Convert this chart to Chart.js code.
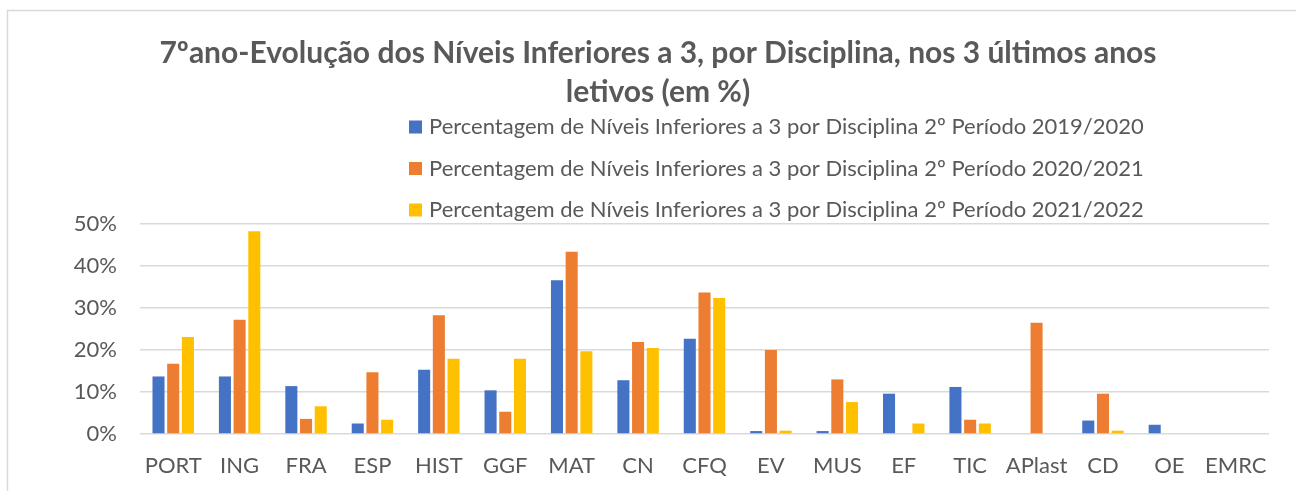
<!DOCTYPE html>
<html>
<head>
<meta charset="utf-8">
<script src="https://cdn.jsdelivr.net/npm/chart.js@4.4.1/dist/chart.umd.min.js"></script>
<style>
  html, body { margin: 0; padding: 0; background: #ffffff; }
  canvas { display: block; }
</style>
</head>
<body>
<canvas id="c" width="1296" height="491"></canvas>
<script>
const categories = ["PORT","ING","FRA","ESP","HIST","GGF","MAT","CN","CFQ","EV","MUS","EF","TIC","APlast","CD","OE","EMRC"];
const values2019 = [13.7, 13.7, 11.4, 2.5, 15.3, 10.4, 36.6, 12.8, 22.7, 0.7, 0.7, 9.6, 11.2, 0, 3.2, 2.2, 0];
const values2020 = [16.7, 27.2, 3.6, 14.7, 28.3, 5.3, 43.4, 21.9, 33.7, 20.0, 13.0, 0, 3.4, 26.5, 9.6, 0, 0];
const values2021 = [23.1, 48.3, 6.6, 3.4, 17.9, 17.9, 19.7, 20.5, 32.4, 0.8, 7.6, 2.5, 2.5, 0, 0.8, 0, 0];
const seriesLabels = [
  "Percentagem de Níveis Inferiores a 3 por Disciplina 2º Período 2019/2020",
  "Percentagem de Níveis Inferiores a 3 por Disciplina 2º Período 2020/2021",
  "Percentagem de Níveis Inferiores a 3 por Disciplina 2º Período 2021/2022"
];
const titleLines = ["7ºano-Evolução dos Níveis Inferiores a 3, por Disciplina, nos 3 últimos anos", "letivos (em %)"];
const yTicks = [0, 10, 20, 30, 40, 50];
const colors = ["#4472C4", "#ED7D31", "#FFC000"];

const FONT = "Lato, 'Open Sans', sans-serif";
const GREY = "#595959";

const framePlugin = {
  id: 'frame',
  beforeDraw(chart) {
    const ctx = chart.ctx;
    ctx.save();
    ctx.fillStyle = '#ffffff';
    ctx.fillRect(0, 0, chart.width, chart.height);
    ctx.strokeStyle = '#D9D9D9';
    ctx.lineWidth = 1.5;
    ctx.beginPath();
    ctx.moveTo(7.5, chart.height);
    ctx.lineTo(7.5, 10.5);
    ctx.lineTo(chart.width, 10.5);
    ctx.stroke();
    ctx.restore();
  }
};

const legendPlugin = {
  id: 'customLegend',
  afterDraw(chart) {
    const ctx = chart.ctx;
    ctx.save();
    ctx.font = "22px " + FONT;
    ctx.textBaseline = 'middle';
    ctx.textAlign = 'left';
    const ys = [127, 168.5, 210];
    chart.data.datasets.forEach((ds, i) => {
      ctx.fillStyle = ds.backgroundColor;
      ctx.fillRect(409, ys[i] - 6.5, 13, 13);
      ctx.fillStyle = GREY;
      ctx.fillText(ds.label, 429, ys[i]);
    });
    ctx.restore();
  }
};

new Chart(document.getElementById('c'), {
  type: 'bar',
  data: {
    labels: categories,
    datasets: [
      { label: seriesLabels[0], data: values2019, backgroundColor: colors[0] },
      { label: seriesLabels[1], data: values2020, backgroundColor: colors[1] },
      { label: seriesLabels[2], data: values2021, backgroundColor: colors[2] }
    ]
  },
  options: {
    responsive: false,
    animation: false,
    devicePixelRatio: 1,
    layout: { padding: { left: 47, right: 27, top: 0, bottom: 0 } },
    datasets: { bar: { categoryPercentage: 0.664, barPercentage: 0.82 } },
    plugins: {
      legend: { display: false },
      tooltip: { enabled: false },
      title: {
        display: true,
        text: titleLines,
        color: GREY,
        font: { family: FONT, size: 30, weight: 'bold', lineHeight: 1.3 },
        padding: { top: 33.5, bottom: 112.5 }
      }
    },
    scales: {
      x: {
        grid: { display: false, drawTicks: false },
        border: { display: false },
        ticks: { color: GREY, font: { family: FONT, size: 22 }, padding: 19, maxRotation: 0, autoSkip: false },
        afterFit(s) { s.height = 57; }
      },
      y: {
        min: 0, max: 50,
        afterBuildTicks(s) { s.ticks = yTicks.map(v => ({ value: v })); },
        grid: { color: '#D9D9D9', lineWidth: 1.5, drawTicks: false },
        border: { display: false },
        ticks: { color: GREY, font: { family: FONT, size: 22 }, padding: 23, callback: v => v + '%' },
        afterFit(s) { s.width = 93; }
      }
    }
  },
  plugins: [framePlugin, legendPlugin]
});
</script>
</body>
</html>
